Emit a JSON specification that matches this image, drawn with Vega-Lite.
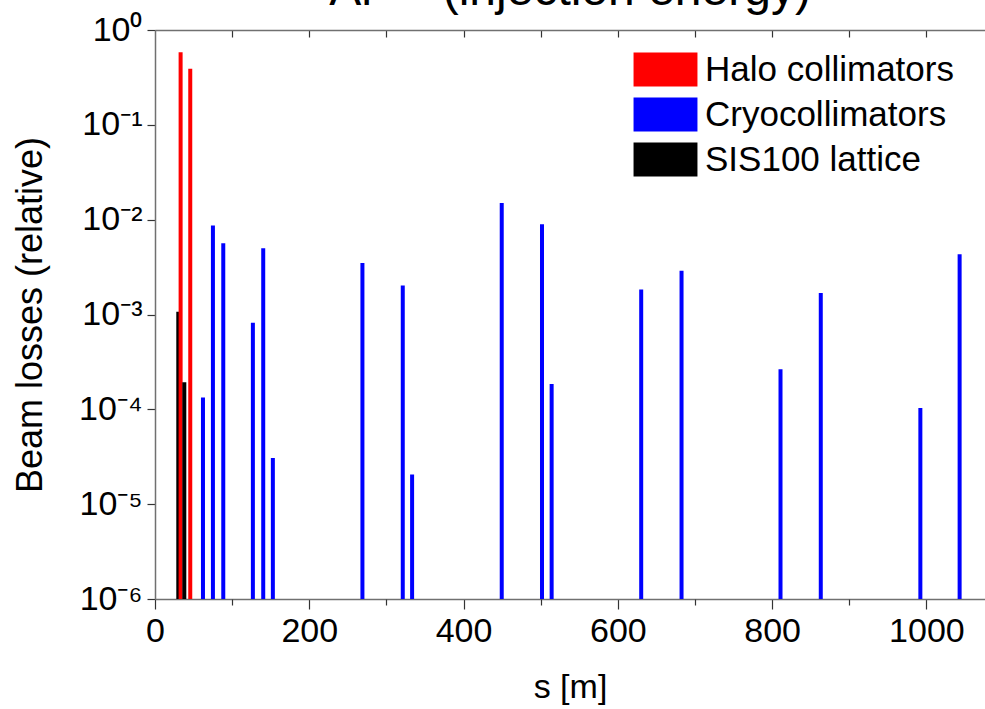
{
  "$schema": "https://vega.github.io/schema/vega-lite/v6.json",
  "width": 830,
  "height": 569,
  "autosize": {"type": "none"},
  "padding": {"left": 155, "top": 30, "right": 0, "bottom": 110},
  "background": "white",
  "title": {
    "text": "Ar¹⁸⁺ (injection energy)",
    "fontSize": 48,
    "font": "Liberation Sans",
    "fontWeight": "normal",
    "anchor": "middle",
    "baseline": "alphabetic",
    "offset": -40,
    "color": "black"
  },
  "config": {
    "view": {"stroke": null},
    "axis": {
      "grid": false,
      "labelFont": "Liberation Sans",
      "titleFont": "Liberation Sans",
      "labelColor": "black",
      "titleColor": "black",
      "titleFontWeight": "normal",
      "domainColor": "#707070",
      "domainWidth": 1.5,
      "tickColor": "#333333",
      "tickWidth": 1.2
    }
  },
  "data": {
    "values": [
      {"s": 30.2, "loss": 0.00107, "type": "SIS100 lattice"},
      {"s": 33.2, "loss": 0.583, "type": "Halo collimators"},
      {"s": 45.7, "loss": 0.39, "type": "Halo collimators"},
      {"s": 38.0, "loss": 0.000193, "type": "SIS100 lattice"},
      {"s": 62.2, "loss": 0.000133, "type": "Cryocollimators"},
      {"s": 75.1, "loss": 0.00867, "type": "Cryocollimators"},
      {"s": 88.5, "loss": 0.00564, "type": "Cryocollimators"},
      {"s": 126.9, "loss": 0.00082, "type": "Cryocollimators"},
      {"s": 140.3, "loss": 0.00499, "type": "Cryocollimators"},
      {"s": 152.8, "loss": 0.0000307, "type": "Cryocollimators"},
      {"s": 268.9, "loss": 0.0035, "type": "Cryocollimators"},
      {"s": 321.2, "loss": 0.00202, "type": "Cryocollimators"},
      {"s": 333.3, "loss": 0.0000205, "type": "Cryocollimators"},
      {"s": 449.5, "loss": 0.015, "type": "Cryocollimators"},
      {"s": 501.7, "loss": 0.00895, "type": "Cryocollimators"},
      {"s": 514.2, "loss": 0.000185, "type": "Cryocollimators"},
      {"s": 630.3, "loss": 0.00183, "type": "Cryocollimators"},
      {"s": 682.6, "loss": 0.0029, "type": "Cryocollimators"},
      {"s": 810.9, "loss": 0.000264, "type": "Cryocollimators"},
      {"s": 863.1, "loss": 0.00169, "type": "Cryocollimators"},
      {"s": 992.2, "loss": 0.000103, "type": "Cryocollimators"},
      {"s": 1043.1, "loss": 0.00431, "type": "Cryocollimators"}
    ]
  },
  "layer": [
    {
      "mark": {"type": "bar", "size": 4},
      "encoding": {
        "x": {
          "field": "s",
          "type": "quantitative",
          "scale": {"domain": [0, 1076], "nice": false, "zero": false, "padding": 0},
          "axis": {
            "orient": "bottom",
            "values": [0, 200, 400, 600, 800, 1000],
            "format": "d",
            "labelFlush": false,
            "tickSize": 10,
            "labelPadding": 5,
            "labelFontSize": 34,
            "title": "s [m]",
            "titleFontSize": 34,
            "titlePadding": 22
          }
        },
        "y": {
          "field": "loss",
          "type": "quantitative",
          "scale": {"type": "log", "domain": [0.000001, 1], "nice": false},
          "axis": {
            "values": [1, 0.1, 0.01, 0.001, 0.0001, 0.00001, 0.000001],
            "labelExpr": "datum.value >= 0.5 ? '10⁰' : datum.value >= 0.05 ? '10⁻¹' : datum.value >= 0.005 ? '10⁻²' : datum.value >= 0.0005 ? '10⁻³' : datum.value >= 0.00005 ? '10⁻⁴' : datum.value >= 0.000005 ? '10⁻⁵' : '10⁻⁶'",
            "tickSize": 8,
            "labelPadding": 5,
            "labelFontSize": 34,
            "title": "Beam losses (relative)",
            "titleFontSize": 36,
            "titlePadding": 29
          }
        },
        "y2": {"datum": 0.000001},
        "color": {
          "field": "type",
          "type": "nominal",
          "scale": {
            "domain": ["Halo collimators", "Cryocollimators", "SIS100 lattice"],
            "range": ["#ff0000", "#0000ff", "#000000"]
          },
          "legend": {
            "orient": "none",
            "legendX": 493,
            "legendY": 22,
            "title": null,
            "symbolType": "M-1.88,-1H1.88V1H-1.88Z",
            "symbolSize": 1156,
            "symbolStrokeWidth": 0,
            "symbolOpacity": 1,
            "labelFontSize": 35,
            "labelFont": "Liberation Sans",
            "labelColor": "black",
            "labelOffset": 22,
            "labelLimit": 400,
            "rowPadding": 9,
            "padding": 0
          }
        }
      }
    },
    {
      "mark": {"type": "rule", "opacity": 0},
      "encoding": {
        "x": {
          "field": "s",
          "type": "quantitative",
          "axis": {
            "orient": "bottom",
            "values": [100, 300, 500, 700, 900],
            "tickSize": 6,
            "labels": false,
            "domain": false,
            "title": null
          }
        }
      }
    },
    {
      "mark": {"type": "rule", "opacity": 0},
      "encoding": {
        "x": {
          "field": "s",
          "type": "quantitative",
          "axis": {
            "orient": "top",
            "values": [100, 200, 300, 400, 500, 600, 700, 800, 900, 1000],
            "tickSize": -7,
            "labels": false,
            "title": null
          }
        }
      }
    }
  ],
  "resolve": {"axis": {"x": "independent"}}
}
